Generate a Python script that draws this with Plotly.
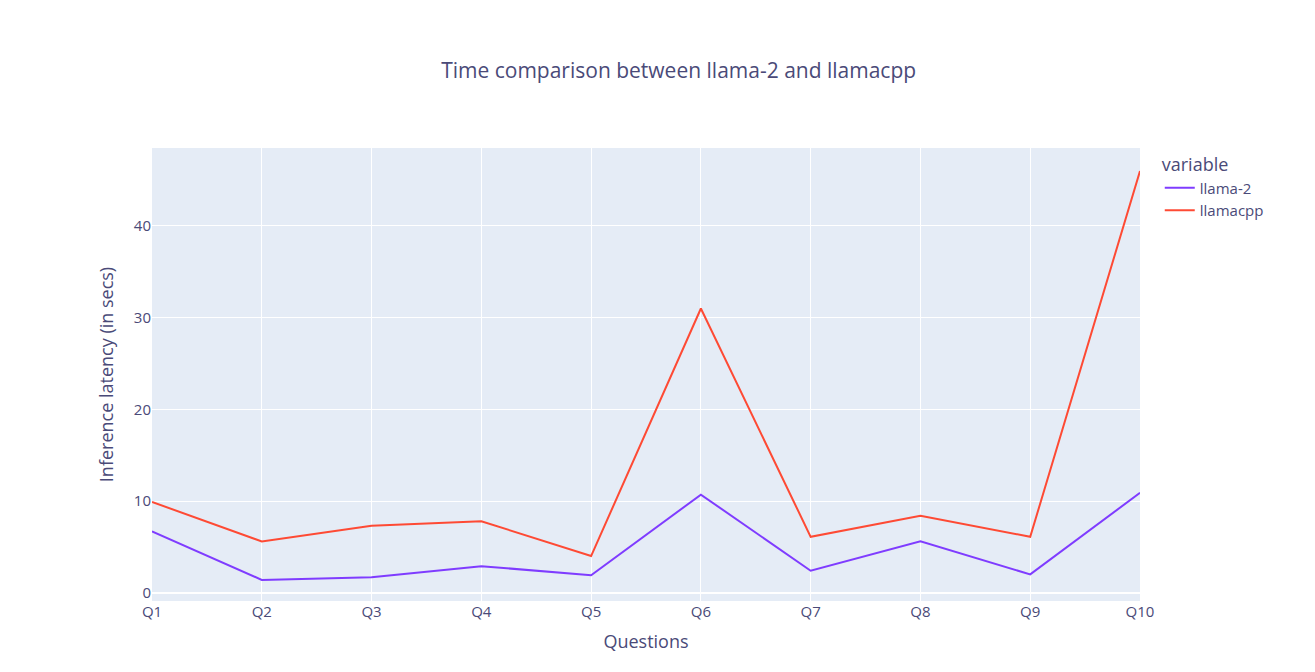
import plotly.graph_objects as go

questions = ["Q1","Q2","Q3","Q4","Q5","Q6","Q7","Q8","Q9","Q10"]
llama2 = [6.7, 1.4, 1.7, 2.9, 1.9, 10.7, 2.4, 5.6, 2.0, 10.9]
llamacpp = [9.9, 5.6, 7.3, 7.8, 4.0, 31.0, 6.1, 8.4, 6.1, 46.0]

fig = go.Figure()
fig.add_trace(go.Scatter(x=questions, y=llama2, mode="lines", name="llama-2", line=dict(color="#7f3cff", width=2)))
fig.add_trace(go.Scatter(x=questions, y=llamacpp, mode="lines", name="llamacpp", line=dict(color="#fe4a34", width=2)))
fig.update_layout(
    template="plotly",
    width=1315, height=672,
    font=dict(size=15, color="#4a4a78"),
    margin=dict(l=144, r=183, t=140, b=79),
    title=dict(text="Time comparison between llama-2 and llamacpp", x=0.51, xanchor="center", font=dict(size=21)),
    xaxis=dict(title="Questions", range=[0, 9]),
    yaxis=dict(title="Inference latency (in secs)", range=[-0.9, 48.5], dtick=10),
    legend=dict(title=dict(text="variable")),
)
fig.write_html("out.html")
